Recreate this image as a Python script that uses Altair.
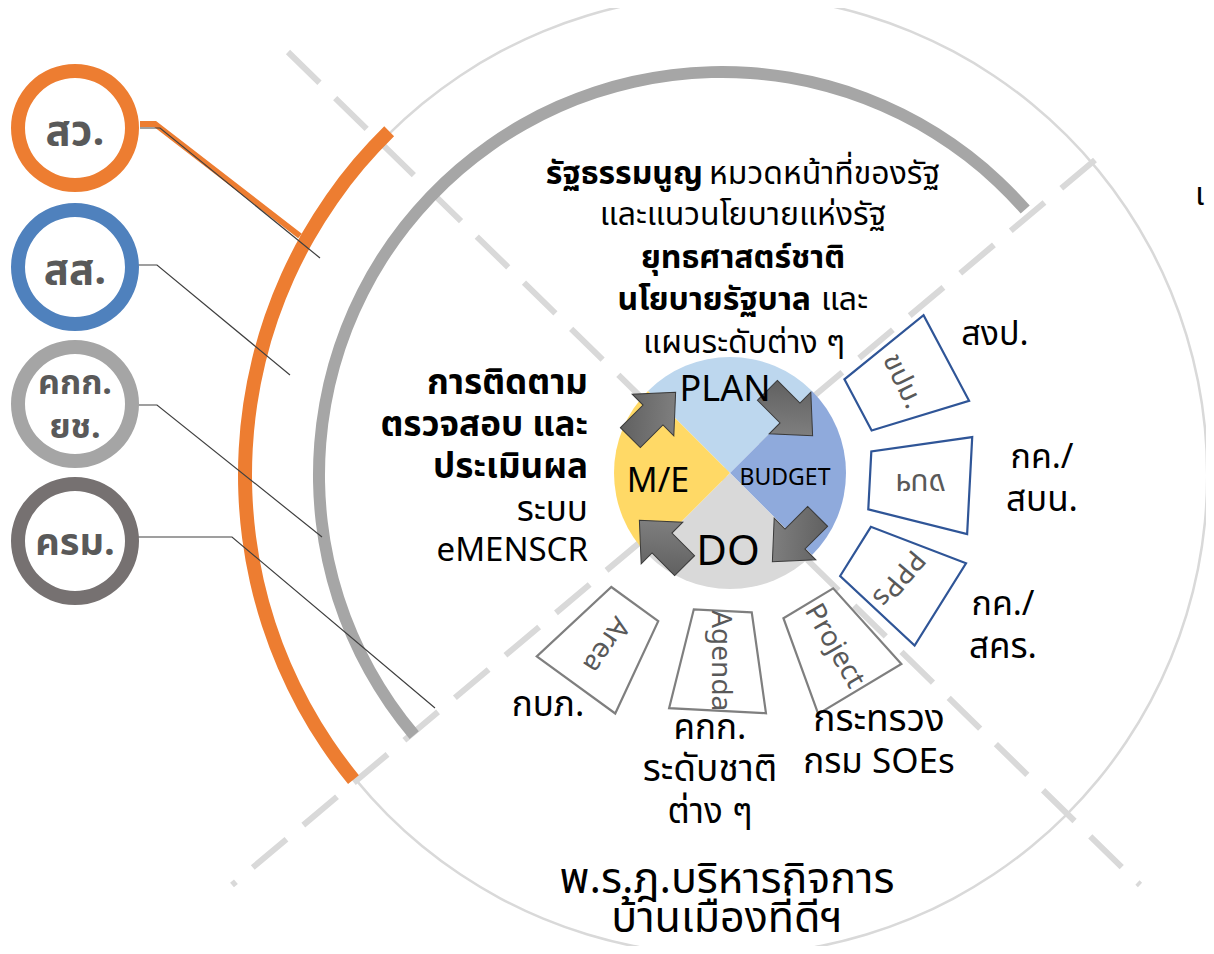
import math
import altair as alt
import pandas as pd

FONT = "Noto Sans Thai, Leelawadee UI, Tahoma, Noto Sans, sans-serif"

# ---------------- data ----------------
# centre of the diagram (page pixels)
CX, CY = 730, 473

# pie quadrants
pie_labels = ["PLAN", "BUDGET", "DO", "M/E"]
pie_start_deg = [315, 45, 135, 225]
pie_end_deg = [405, 135, 225, 315]
pie_colors = ["#BDD7EE", "#8FAADC", "#D9D9D9", "#FFD966"]
pie_radius = 116
pie_text_x = [725, 785, 728, 658]
pie_text_y = [390, 478, 552, 482]
pie_text_size = [36, 23, 42, 34]

# big arcs: thin outer circle, grey arc, orange arc
arc_names = ["outer", "grey", "orange"]
arc_cx = [727, 722, 727]
arc_cy = [475, 475, 475]
arc_r_in = [479, 397, 475]
arc_r_out = [481.5, 409, 489]
arc_start_deg = [0, 229.8, 230.8]
arc_end_deg = [360, 408.8, 315.5]
arc_colors = ["#D9D9D9", "#A6A6A6", "#ED7D31"]

# dashed diagonals
dash_x1 = [288, 1095]
dash_y1 = [52, 160]
dash_x2 = [1140, 232]
dash_y2 = [885, 885]

# left rings
ring_x = [75, 75, 75, 75]
ring_y = [128, 267, 404, 541]
ring_colors = ["#ED7D31", "#4F81BD", "#A5A5A5", "#767171"]
ring_text = ["สว.", "สส.", "คกก.", "ยช.", "ครม."]
ring_text_x = [75, 75, 75, 75, 75]
ring_text_y = [132, 271, 384, 428, 544]
ring_text_size = [42, 42, 34, 34, 38]

# connector polylines
conn_id = [0, 0, 0, 1, 1, 1, 2, 2, 2, 3, 3, 3]
conn_x = [140, 160, 320, 138, 157, 290, 138, 157, 322, 138, 232, 435]
conn_y = [128, 128, 258, 265, 265, 375, 405, 405, 537, 537, 537, 708]
orange_conn_x = [140, 155, 300]
orange_conn_y = [124, 124, 236]

# arrows around the pie (direction: degrees clockwise from up)
arrow_x = [653, 790, 795, 662]
arrow_y = [415, 413, 539, 543]
arrow_dir = [45, 135, 225, 315]

# trapezoids
trap_labels = ["ขปม.", "งบฯ", "PPPs", "Project", "Agenda", "Area"]
trap_angle = [62, 93, 122, 149, 183, 216]
trap_dist = [195, 190, 198, 202, 188, 212]
trap_text_angle = [64, 180, 130, 60, 90, 124]
trap_stroke = ["#2F5597", "#2F5597", "#2F5597", "#7F7F7F", "#7F7F7F", "#7F7F7F"]
trap_font = [28, 30, 28, 28, 28, 28]

# text blocks
txt_text = [
    "รัฐธรรมนูญ", "หมวดหน้าที่ของรัฐ", "และแนวนโยบายแห่งรัฐ", "ยุทธศาสตร์ชาติ",
    "นโยบายรัฐบาล", "และ", "แผนระดับต่าง ๆ",
    "การติดตาม", "ตรวจสอบ และ", "ประเมินผล", "ระบบ", "eMENSCR",
    "สงป.", "กค./", "สบน.", "กค./", "สคร.",
    "กบภ.", "คกก.", "ระดับชาติ", "ต่าง ๆ", "กระทรวง", "กรม SOEs",
    "พ.ร.ฎ.บริหารกิจการ", "บ้านเมืองที่ดีฯ", "แ",
]
txt_x = [703, 709, 743, 743, 811, 821, 744,
         588, 588, 588, 588, 588,
         995, 1042, 1042, 1003, 1003,
         548, 710, 710, 710, 879, 879,
         727, 727, 1195]
txt_y = [174, 174, 215, 258, 300, 300, 343,
         383, 425, 467, 510, 551,
         335, 458, 500, 605, 647,
         705, 728, 770, 812, 720, 762,
         880, 919, 195]
txt_size = [32, 32, 32, 32, 32, 32, 32,
            35, 35, 35, 35, 33,
            34, 34, 35, 34, 35,
            35, 35, 37, 35, 37, 35,
            43, 43, 32]
txt_weight = ["bold", "normal", "normal", "bold", "bold", "normal", "normal",
              "bold", "bold", "bold", "normal", "normal",
              "normal", "normal", "normal", "normal", "normal",
              "normal", "normal", "normal", "normal", "normal", "normal",
              "normal", "normal", "normal"]
txt_align = ["right", "left", "center", "center", "right", "left", "center",
             "right", "right", "right", "right", "right",
             "center", "center", "center", "center", "center",
             "center", "center", "center", "center", "center", "center",
             "center", "center", "left"]

# ---------------- scales ----------------
XS = alt.Scale(domain=[8, 1206], range=[0, 1198], zero=False, nice=False)
YS = alt.Scale(domain=[8, 946], range=[0, 938], zero=False, nice=False)


def X(f="x"):
    return alt.X(f"{f}:Q", scale=XS, axis=None)


def Y(f="y"):
    return alt.Y(f"{f}:Q", scale=YS, axis=None)


rad = math.pi / 180

# ---------------- layers ----------------
arcs_df = pd.DataFrame({
    "x": arc_cx, "y": arc_cy, "ri": arc_r_in, "ro": arc_r_out,
    "t0": [a * rad for a in arc_start_deg], "t1": [a * rad for a in arc_end_deg],
    "c": arc_colors, "name": arc_names,
})


def arc_layer(df):
    return alt.Chart(df).mark_arc(strokeWidth=0).encode(
        x=X(), y=Y(),
        theta=alt.Theta("t0:Q", scale=None, stack=None),
        theta2="t1:Q",
        radius=alt.Radius("ro:Q", scale=None),
        radius2="ri:Q",
        color=alt.Color("c:N", scale=None),
    )


outer_layer = arc_layer(arcs_df[arcs_df.name == "outer"])
big_arcs = arc_layer(arcs_df[arcs_df.name != "outer"])

dash_df = pd.DataFrame({"x": dash_x1, "y": dash_y1, "x2": dash_x2, "y2": dash_y2})
dash_layer = alt.Chart(dash_df).mark_rule(
    color="#D9D9D9", strokeWidth=6, strokeDash=[44, 22]
).encode(x=X(), y=Y(), x2="x2:Q", y2="y2:Q")

conn_df = pd.DataFrame({"x": conn_x, "y": conn_y, "id": conn_id,
                        "o": list(range(len(conn_x)))})
conn_layer = alt.Chart(conn_df).mark_line(color="#404040", strokeWidth=1.2).encode(
    x=X(), y=Y(), detail="id:N", order="o:Q")

oconn_df = pd.DataFrame({"x": orange_conn_x, "y": orange_conn_y,
                         "o": list(range(len(orange_conn_x)))})
oconn_layer = alt.Chart(oconn_df).mark_line(color="#ED7D31", strokeWidth=6).encode(
    x=X(), y=Y(), order="o:Q")

ring_df = pd.DataFrame({"x": ring_x, "y": ring_y, "c": ring_colors,
                        "ri": [50] * 4, "ro": [64] * 4,
                        "t0": [0.0] * 4, "t1": [2 * math.pi] * 4})
ring_fill = alt.Chart(ring_df).mark_point(
    shape="circle", filled=True, size=100 * 100, color="white", opacity=1
).encode(x=X(), y=Y())
ring_layer = arc_layer(ring_df)
ring_txt_df = pd.DataFrame({"x": ring_text_x, "y": ring_text_y, "t": ring_text,
                            "fs": ring_text_size})
ring_txt = alt.Chart(ring_txt_df).mark_text(
    font=FONT, fontWeight="bold", color="#595959", baseline="middle", align="center"
).encode(x=X(), y=Y(), text="t:N", size=alt.Size("fs:Q", scale=None))

pie_df = pd.DataFrame({
    "x": [CX] * 4, "y": [CY] * 4, "ri": [0] * 4, "ro": [pie_radius] * 4,
    "t0": [a * rad for a in pie_start_deg], "t1": [a * rad for a in pie_end_deg],
    "c": pie_colors,
})
pie_layer = arc_layer(pie_df)

arrow_path = "M -1 -0.44 L 0 -0.44 L 0 -0.92 L 1 0 L 0 0.92 L 0 0.44 L -1 0.44 Z"
arrow_df = pd.DataFrame({"x": arrow_x, "y": arrow_y,
                         "a": [(d - 90) % 360 for d in arrow_dir]})
arrow_layer = alt.Chart(arrow_df).mark_point(
    shape=arrow_path, filled=True, size=64 * 64,
    fill=alt.Gradient(gradient="linear",
                      stops=[alt.GradientStop(color="#5A5A5A", offset=0),
                             alt.GradientStop(color="#8A8A8A", offset=1)],
                      x1=0, y1=0, x2=1, y2=1),
    stroke="#3A3A3A", strokeWidth=1, opacity=1
).encode(x=X(), y=Y(), angle=alt.Angle("a:Q", scale=None))

pie_txt_df = pd.DataFrame({"x": pie_text_x, "y": pie_text_y, "t": pie_labels,
                           "fs": pie_text_size})
pie_txt = alt.Chart(pie_txt_df).mark_text(
    font=FONT, color="#000000", baseline="middle", align="center"
).encode(x=X(), y=Y(), text="t:N", size=alt.Size("fs:Q", scale=None))

trap_path = "M -0.58 1 L 0.58 1 L 0.97 -1 L -0.97 -1 Z"
trap_df = pd.DataFrame({
    "x": [CX + d * math.sin(a * rad) for a, d in zip(trap_angle, trap_dist)],
    "y": [CY - d * math.cos(a * rad) for a, d in zip(trap_angle, trap_dist)],
    "a": trap_angle, "ta": trap_text_angle, "s": trap_stroke, "t": trap_labels,
    "fs": trap_font,
})
trap_layer = alt.Chart(trap_df).mark_point(
    shape=trap_path, filled=True, size=100 * 100, fill="white", strokeWidth=2.2,
    opacity=1
).encode(x=X(), y=Y(), angle=alt.Angle("a:Q", scale=None),
         stroke=alt.Stroke("s:N", scale=None))
trap_txt = alt.Chart(trap_df).mark_text(
    font=FONT, color="#595959", baseline="middle", align="center"
).encode(x=X(), y=Y(), text="t:N", angle=alt.Angle("ta:Q", scale=None),
         size=alt.Size("fs:Q", scale=None))

txt_df = pd.DataFrame({"x": txt_x, "y": txt_y, "t": txt_text, "fs": txt_size,
                       "w": txt_weight, "al": txt_align})
text_layers = []
for (w, al), g in txt_df.groupby(["w", "al"]):
    text_layers.append(
        alt.Chart(g).mark_text(
            font=FONT, fontWeight=w, align=al, baseline="middle", color="#000000"
        ).encode(x=X(), y=Y(), text="t:N", size=alt.Size("fs:Q", scale=None))
    )

chart = alt.layer(
    outer_layer, dash_layer, big_arcs, oconn_layer, conn_layer,
    ring_fill, ring_layer, ring_txt,
    pie_layer, arrow_layer, pie_txt,
    trap_layer, trap_txt, *text_layers
).properties(
    width=1198, height=938, padding=0, autosize="none", background="white"
).configure_view(stroke=None)

chart.save("out.html", embed_options={"renderer": "svg", "actions": False})
